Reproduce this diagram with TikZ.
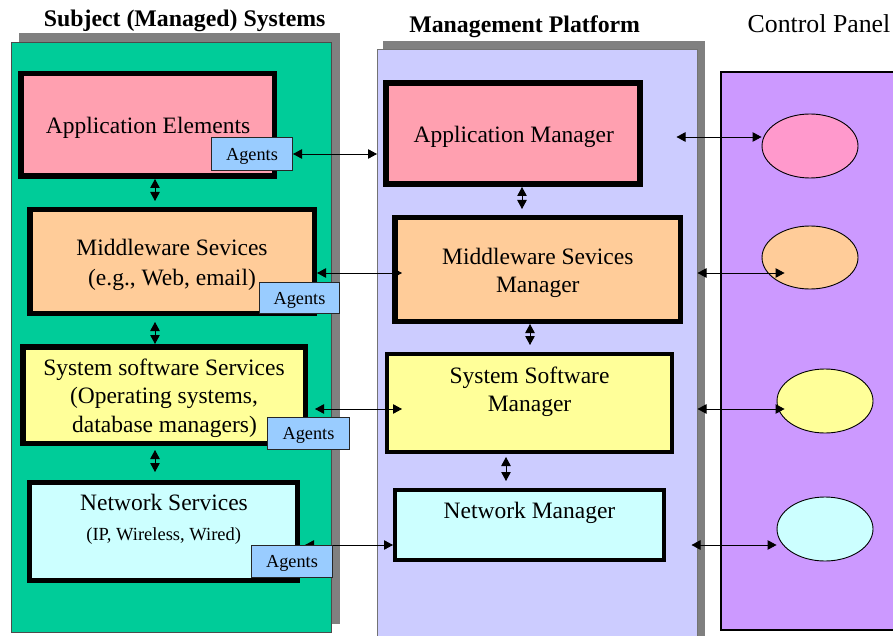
\documentclass[tikz,border=0pt]{standalone}
\usepackage{fontspec}
\setmainfont{Liberation Serif}
\usetikzlibrary{arrows.meta,calc,shapes.geometric}
\definecolor{greenpanel}{HTML}{00CC99}
\definecolor{bluepanel}{HTML}{CCCCFF}
\definecolor{purplepanel}{HTML}{CC99FF}
\definecolor{shadowgray}{HTML}{808080}
\definecolor{pinkbox}{HTML}{FFA0B0}
\definecolor{orangebox}{HTML}{FFCC99}
\definecolor{yellowbox}{HTML}{FFFF99}
\definecolor{cyanbox}{HTML}{CCFFFF}
\definecolor{agentblue}{HTML}{99CCFF}
\definecolor{pinkoval}{HTML}{FF99CC}
\begin{document}
\begin{tikzpicture}[x=1pt,y=-1pt,
  panelbox/.style={rectangle, inner sep=0pt, anchor=center},
  thickbox/.style={rectangle, draw=black, line width=5.5pt, inner sep=0pt},
  medbox/.style={rectangle, draw=black, line width=4.2pt, inner sep=0pt},
  agentbox/.style={rectangle, draw=black!85, fill=agentblue, line width=1pt, inner sep=0pt,
    text depth=0pt, font=\fontsize{18.3}{22}\selectfont},
  oval/.style={ellipse, draw=black, line width=0.9pt, minimum width=96pt, minimum height=64pt, inner sep=0pt},
  lbl/.style={anchor=base, inner sep=0pt, font=\fontsize{23.5}{28.5}\selectfont},
  smalllbl/.style={anchor=base, inner sep=0pt, font=\fontsize{18.5}{22}\selectfont},
  titlelbl/.style={anchor=base, inner sep=0pt, font=\fontsize{23.8}{28}\selectfont\bfseries},
  dbl/.style={{Triangle[length=9pt,width=9.5pt]}-{Triangle[length=9pt,width=9.5pt]}, line width=0.9pt},
]
\useasboundingbox (0,0) rectangle (893,636);
\clip (0,0) rectangle (893,636);
\fill[white] (0,0) rectangle (893,636);

% titles
\node[titlelbl] (t1) at (184.7,27) {Subject (Managed) Systems};
\node[titlelbl] (t2) at (524.7,33) {Management Platform};
\node[anchor=base, inner sep=0pt, font=\fontsize{25.8}{30}\selectfont] (t3) at (819,33) {Control Panel};

% panels
\node[panelbox, fill=shadowgray, minimum width=321pt, minimum height=591pt] (gs) at (179.5,328.5) {};
\node[panelbox, fill=greenpanel, draw=black!70, line width=1pt, minimum width=319.5pt, minimum height=590pt] (gp) at (171.25,337.25) {};
\node[panelbox, fill=shadowgray, minimum width=322pt, minimum height=610pt] (bs) at (544,346) {};
\node[panelbox, fill=bluepanel, draw=black!55, line width=1pt, minimum width=319.5pt, minimum height=600pt] (bp) at (537.25,349.5) {};
\node[panelbox, fill=purplepanel, draw=black, line width=2pt, minimum width=190pt, minimum height=558pt] (pp) at (816,351) {};

% subject boxes
\node[thickbox, fill=pinkbox, minimum width=253.5pt, minimum height=102.5pt] (ae) at (147.5,125) {};
\node[thickbox, fill=orangebox, minimum width=284.5pt, minimum height=103.5pt] (mw) at (172,261.5) {};
\node[thickbox, fill=yellowbox, minimum width=282.5pt, minimum height=96.5pt] (ss) at (164,395) {};
\node[thickbox, line width=5pt, fill=cyanbox, minimum width=268pt, minimum height=98pt] (ns) at (163.5,531.5) {};

% manager boxes
\node[thickbox, line width=6pt, fill=pinkbox, minimum width=254pt, minimum height=101pt] (am) at (513,133.5) {};
\node[thickbox, fill=orangebox, minimum width=285.5pt, minimum height=103.5pt] (mm) at (537.5,269.5) {};
\node[medbox, fill=yellowbox, minimum width=284.8pt, minimum height=97.8pt] (sm) at (529.5,403) {};
\node[medbox, line width=4pt, fill=cyanbox, minimum width=269pt, minimum height=70pt] (nm) at (529.5,525) {};

% texts
\node[lbl] (aet) at (148,133.3) {Application Elements};
\node[lbl] (mwt1) at (172,255.7) {Middleware Sevices};
\node[lbl] (mwt2) at (172,285) {(e.g., Web, email)};
\node[lbl] (sst1) at (164,375) {System software Services};
\node[lbl] (sst2) at (164,403) {(Operating systems,};
\node[lbl] (sst3) at (164.5,432) {database managers)};
\node[lbl] (nst1) at (164,510.6) {Network Services};
\node[smalllbl] (nst2) at (163.7,540) {(IP, Wireless, Wired)};
\node[lbl] (amt) at (513.7,142.7) {Application Manager};
\node[lbl] (mmt1) at (537.8,264) {Middleware Sevices};
\node[lbl] (mmt2) at (537.8,292) {Manager};
\node[lbl] (smt1) at (529.5,383) {System Software};
\node[lbl] (smt2) at (529.5,411) {Manager};
\node[lbl] (nmt) at (529.5,518) {Network Manager};

% control panel ovals
\node[oval, fill=pinkoval] (e1) at (810,146) {};
\node[oval, fill=orangebox, minimum height=63pt] (e2) at (810,257.5) {};
\node[oval, fill=yellowbox] (e3) at (825,401) {};
\node[oval, fill=cyanbox] (e4) at (825,529) {};

% vertical connectors
\draw[dbl] (ae.south -| 155,0) -- ($(mw.north -| 155,0)+(0,-6)$);
\draw[dbl] ($(mw.south -| 155,0)+(0,6)$) -- (ss.north -| 155,0);
\draw[dbl] ($(ss.south -| 155,0)+(0,4)$) -- ($(ns.north -| 155,0)+(0,-8)$);
\draw[dbl] (am.south -| 522,0) -- ($(mm.north -| 522,0)+(0,-6)$);
\draw[dbl] (mm.south -| 530,0) -- ($(sm.north -| 530,0)+(0,-7)$);
\draw[dbl] ($(sm.south -| 506,0)+(0,3)$) -- ($(nm.north -| 506,0)+(0,-7)$);

% horizontal connectors, subject -> platform
\coordinate (ag1e) at (293,154);
\draw[dbl] (ag1e) -- (ag1e -| bp.west);
\draw[dbl] (mw.east |- 0,273) -- ($(mm.west |- 0,273)+(10,0)$);
\draw[dbl] ($(ss.east |- 0,409)+(7,0)$) -- ($(sm.west |- 0,409)+(17,0)$);
\draw[dbl] ($(ns.east |- 0,545)+(5,0)$) -- (nm.west |- 0,545);

% horizontal connectors, platform -> control panel
\draw[dbl] ($(bp.east |- 0,137)+(-21,0)$) -- (e1.west |- 0,137);
\draw[dbl] (bp.east |- 0,273) -- ($(e2.west |- 0,273)+(23,0)$);
\draw[dbl] (bp.east |- 0,409) -- ($(e3.west |- 0,409)+(8,0)$);
\draw[dbl] ($(bp.east |- 0,545)+(-6,0)$) -- (e4.west |- 0,545);

% agents
\node[agentbox, minimum width=81pt, minimum height=33pt] (ag1) at (252,154) {Agents};
\node[agentbox, minimum width=80pt, minimum height=31pt] (ag2) at (299.5,298) {Agents};
\node[agentbox, minimum width=82pt, minimum height=32pt] (ag3) at (308.5,433.5) {Agents};
\node[agentbox, minimum width=81pt, minimum height=32pt] (ag4) at (292,561.5) {Agents};
\end{tikzpicture}
\end{document}
